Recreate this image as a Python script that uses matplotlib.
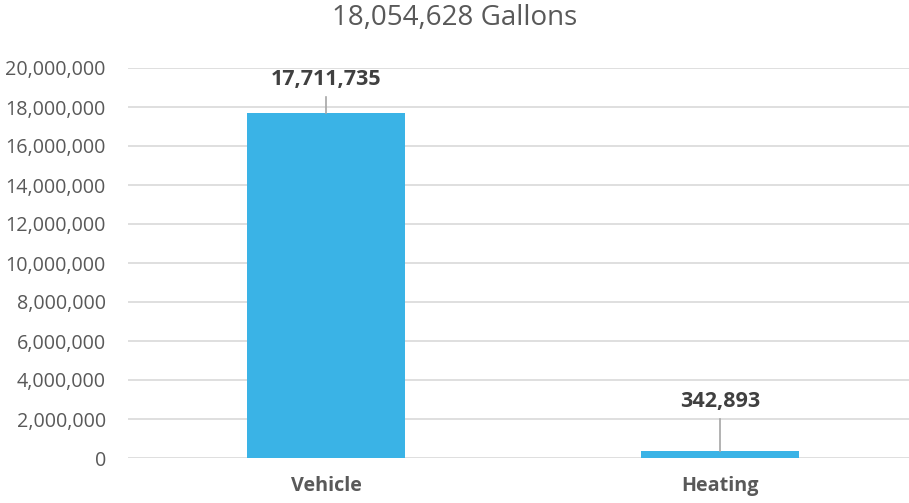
import matplotlib.pyplot as plt
from matplotlib.ticker import FuncFormatter

categories = ['Vehicle', 'Heating']
gallons = [17711735, 342893]
label_y = [19400000, 2880000]
title = '18,054,628 Gallons'

plt.rcParams['font.family'] = ['Open Sans', 'DejaVu Sans']

fig = plt.figure(figsize=(9.09, 5.03), dpi=100)
ax = fig.add_axes([128 / 909, 45 / 503, 781 / 909, 390 / 503])

col = '#3AB3E6'
x = list(range(len(categories)))
ax.bar(x, gallons, width=0.4, color=col, zorder=3)

for i, (v, ly) in enumerate(zip(gallons, label_y)):
    ax.plot([i, i], [v, ly - 880000], color='#A6A6A6', lw=1.2, zorder=4)
    ax.text(i, ly, f'{v:,}', ha='center', va='center', fontsize=15.5,
            fontweight='bold', color='#404040')

ax.set_xlim(-0.503, 1.48)
ax.set_ylim(0, 20000000)
ax.set_yticks(range(0, 20000001, 2000000))
ax.yaxis.set_major_formatter(FuncFormatter(lambda v, p: f'{int(v):,}'))
ax.set_xticks(x)
ax.set_xticklabels(categories, fontweight='bold')
ax.grid(axis='y', color='#D9D9D9', lw=1.2, zorder=0)
for s in ax.spines.values():
    s.set_visible(False)
ax.tick_params(length=0, labelsize=14.2, colors='#595959')
ax.tick_params(axis='x', pad=13)
ax.tick_params(axis='y', pad=16)

fig.text(0.5, 1 - 18 / 503, title, ha='center', va='center', fontsize=20,
         color='#595959')

fig.savefig('out.png', dpi=100)
